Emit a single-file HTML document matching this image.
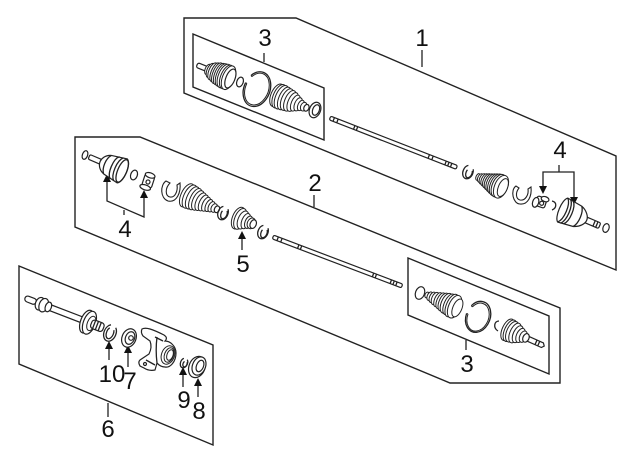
<!DOCTYPE html>
<html><head><meta charset="utf-8"><style>
html,body{margin:0;padding:0;background:#fff}
svg{display:block}
text{font-family:"Liberation Sans",sans-serif;font-size:24px;fill:#111;text-anchor:middle}
.p{fill:none;stroke:#222;stroke-width:1.4}
.l{stroke:#222;stroke-width:1.3;fill:none}
.f{fill:#fff;stroke:#222;stroke-width:1.2}
.r{fill:#fff;stroke:#222;stroke-width:1}
</style></head><body>
<svg width="640" height="471" viewBox="0 0 640 471" xmlns="http://www.w3.org/2000/svg">
<rect width="640" height="471" fill="#fff"/>
<!-- panels -->
<path class="p" d="M184 18H296L616 156V270L184 93Z"/>
<path class="p" d="M193 34L324 88V140L193 87Z"/>
<path class="p" d="M75 137H140L560 308V383H450L75 227Z"/>
<path class="p" d="M408 258L549 316V374L408 315Z" style="fill:#fff"/>
<path class="p" d="M19 266L213 345V445L19 364Z"/>
<!-- leader lines -->
<g class="l">
<path d="M264 53V62M422 50V67M314 195V207M466 340V350M108 403V417M124 210V215"/>
<path d="M559 165V172M543 192V172H574V203"/>
<path d="M107 177V201L144 217V193"/>
<path d="M242 250V233M109 360V343M128 367V347M183 387V369M198 397V380"/>
</g>
<g fill="#111">
<path d="M543 194l-4-8h8zM574 205l-4-8h8zM107 174l-4 8h8zM144 190l-4 8h8zM242 231l-4 8h8zM109 341l-4 8h8zM128 345l-4 8h8zM183 367l-4 8h8zM198 378l-4 8h8z"/>
</g>
<!-- upper left: boot group -->
<g transform="translate(197 65) rotate(22)">
<rect class="f" x="0" y="-2.5" width="11" height="5" rx="2"/>
<ellipse class="r" cx="12" cy="0" rx="3" ry="5.500"/><ellipse class="r" cx="14.500" cy="0" rx="3.500" ry="7.500"/><ellipse class="r" cx="17" cy="0" rx="4" ry="9"/><ellipse class="r" cx="19.500" cy="0" rx="4" ry="10"/><ellipse class="r" cx="22" cy="0" rx="4.500" ry="11"/><ellipse class="r" cx="24.500" cy="0" rx="5" ry="11.500"/><ellipse class="r" cx="27" cy="0" rx="5.500" ry="12"/><ellipse class="r" cx="29.500" cy="0" rx="6" ry="12.500"/><ellipse class="r" cx="32" cy="0" rx="6" ry="12.500"/><ellipse class="r" cx="34" cy="0" rx="6" ry="12.500"/><ellipse class="f" cx="36" cy="0" rx="4.500" ry="10"/>
</g>
<ellipse class="f" cx="240" cy="82" rx="3.200" ry="5" transform="rotate(20 240 82)"/>
<g transform="translate(288 100) rotate(23)">
<ellipse class="r" cx="-12" cy="0" rx="6" ry="12"/><ellipse class="r" cx="-9.500" cy="0" rx="6" ry="12.500"/><ellipse class="r" cx="-7" cy="0" rx="6" ry="12.500"/><ellipse class="r" cx="-4" cy="0" rx="5.500" ry="12"/><ellipse class="r" cx="-1" cy="0" rx="5.500" ry="11.500"/><ellipse class="r" cx="2" cy="0" rx="5" ry="11"/><ellipse class="r" cx="5" cy="0" rx="4.500" ry="10"/><ellipse class="r" cx="8" cy="0" rx="4" ry="8.500"/><ellipse class="r" cx="11" cy="0" rx="3.500" ry="7"/><ellipse class="r" cx="14" cy="0" rx="3" ry="5.500"/><ellipse class="r" cx="17" cy="0" rx="3" ry="4.500"/><ellipse class="f" cx="20" cy="0" rx="2.500" ry="3.500"/>
</g>
<g transform="translate(257 89) rotate(22)" fill="none" stroke="#222">
<path stroke-width="1.3" d="M-10.600-10.300A13 18 0 1 1-12.950-1.600"/>
<path stroke-width="1" d="M-9.400-9.500A11.500 16.500 0 1 1-11.500-1.400"/>
<path stroke-width="1" d="M-10.600-10.300L-9.400-9.500M-12.950-1.600L-11.500-1.400"/>
</g>
<ellipse class="f" cx="315" cy="110" rx="5.500" ry="8" transform="rotate(22 315 110)"/>
<ellipse class="f" cx="316" cy="110" rx="3.300" ry="5.500" transform="rotate(22 316 110)"/>
<!-- upper shaft -->
<g transform="translate(330 118) rotate(21.3)">
<rect class="f" x="0" y="-2" width="136" height="4" rx="1.500"/>
<path class="l" stroke-width="1" d="M4-2V2M8-2V2M26-2V2M29-2V2M106-2V2M110-2V2M124-2V2M127-2V2M130-2V2"/>
</g>
<!-- clip -->
<ellipse class="l" cx="468" cy="172" rx="5" ry="7" transform="rotate(22 468 172)" stroke-dasharray="26 7"/>
<ellipse class="l" cx="469" cy="173" rx="3" ry="5" transform="rotate(22 469 173)" stroke-dasharray="15 7"/>
<!-- cone boot -->
<g transform="translate(478 177) rotate(23)">
<ellipse class="r" cx="0" cy="0" rx="2" ry="3.500"/><ellipse class="r" cx="2.500" cy="0" rx="2.500" ry="4.500"/><ellipse class="r" cx="5" cy="0" rx="3" ry="5.500"/><ellipse class="r" cx="7.500" cy="0" rx="3.500" ry="6.500"/><ellipse class="r" cx="10" cy="0" rx="4" ry="7.500"/><ellipse class="r" cx="12.500" cy="0" rx="4.500" ry="8.500"/><ellipse class="r" cx="15" cy="0" rx="5" ry="9.500"/><ellipse class="r" cx="17.500" cy="0" rx="5.500" ry="10.500"/><ellipse class="r" cx="20" cy="0" rx="6" ry="11.500"/><ellipse class="r" cx="22.500" cy="0" rx="6.500" ry="12"/><ellipse class="r" cx="25" cy="0" rx="6.500" ry="12"/><ellipse class="r" cx="27" cy="0" rx="4.500" ry="9.500"/>
</g>
<path class="f" d="M516 186C510 190 513 204 520 204C528 205 532 196 531 187L528 189C529 195 525 201 520 200C516 199 515 193 519 188Z" style="stroke-width:1.1"/>
<!-- right spider -->
<g transform="translate(541 202) rotate(18)">
<rect class="f" x="-5" y="-5" width="10" height="10" rx="2"/>
<ellipse class="f" cx="-5" cy="2" rx="3" ry="5"/>
<ellipse class="f" cx="3" cy="-4" rx="4" ry="2.500"/>
<circle class="f" cx="1" cy="1" r="2"/>
</g>
<path class="l" d="M552 201C557 202 557 208 552 210"/>
<!-- right housing -->
<g transform="translate(572 214) rotate(23)">
<rect class="f" x="14" y="-3" width="16" height="6" rx="1.500"/>
<path class="l" stroke-width=".9" d="M24-3V3M27-3V3"/>
<path class="f" d="M-10-13L6-11C12-9 16-4 16 0C16 4 12 9 6 11L-10 13C-15 10-15-10-10-13Z"/>
<path class="l" stroke-width="1" d="M-10-13C-5-8-5 8-10 13M-7-13C-2-8-2 8-7 13M-4-12.500C1-8 1 8-4 12.500M6-11C10-6 10 6 6 11"/>
</g>
<ellipse class="f" cx="606" cy="228" rx="3" ry="4.500" transform="rotate(20 606 228)"/>
<!-- middle: left housing -->
<ellipse class="f" cx="85" cy="155" rx="2.600" ry="4.500" transform="rotate(20 85 155)"/>
<g transform="translate(113 167) rotate(-157)">
<rect class="f" x="12" y="-2.500" width="14" height="5" rx="1.500"/>
<path class="f" d="M-10-13L6-10C12-8 14-3 14 0C14 3 12 8 6 10L-10 13C-16 10-16-10-10-13Z"/>
<ellipse class="l" cx="-10" cy="0" rx="4.500" ry="12" stroke-width="1"/>
<path class="l" stroke-width="1" d="M-6-12.500C-1-8-1 8-6 12.500M-2-12C3-8 3 8-2 12M6-10C10-5 10 5 6 10"/>
</g>
<ellipse class="f" cx="134" cy="175" rx="3.300" ry="5" transform="rotate(20 134 175)"/>
<g transform="translate(148 182) rotate(18)">
<rect class="f" x="-5" y="-7" width="10" height="12" rx="2"/>
<ellipse class="f" cx="0" cy="-7" rx="5" ry="2.500"/>
<ellipse class="f" cx="-1" cy="6" rx="5.500" ry="2.500"/>
<circle class="f" cx="0" cy="0" r="2"/>
</g>
<path class="f" d="M166 181C160 185 160 198 168 201C177 203 181 192 180 183L177 185C178 191 175 198 170 197C165 196 165 188 170 183Z" style="stroke-width:1.1"/>
<!-- middle boot -->
<g transform="translate(197 200) rotate(25)">
<ellipse class="r" cx="-11" cy="0" rx="6" ry="12.500"/><ellipse class="r" cx="-8" cy="0" rx="6" ry="12.500"/><ellipse class="r" cx="-5" cy="0" rx="5.500" ry="12"/><ellipse class="r" cx="-2" cy="0" rx="5" ry="11.500"/><ellipse class="r" cx="1" cy="0" rx="5" ry="10.500"/><ellipse class="r" cx="4" cy="0" rx="4.500" ry="9.500"/><ellipse class="r" cx="7" cy="0" rx="4" ry="8.500"/><ellipse class="r" cx="10" cy="0" rx="3.500" ry="7.500"/><ellipse class="r" cx="13" cy="0" rx="3" ry="6.500"/><ellipse class="r" cx="16" cy="0" rx="3" ry="5.500"/><ellipse class="r" cx="19" cy="0" rx="3" ry="4.500"/><ellipse class="f" cx="22" cy="0" rx="2.500" ry="3.500"/>
</g>
<ellipse class="l" cx="223" cy="213" rx="5" ry="7" transform="rotate(22 223 213)" stroke-dasharray="26 6"/>
<ellipse class="l" cx="224" cy="214" rx="3" ry="5" transform="rotate(22 224 214)" stroke-dasharray="15 6"/>
<!-- boot 5 -->
<g transform="translate(243 220) rotate(22)">
<ellipse class="r" cx="-5" cy="0" rx="6" ry="11.500"/><ellipse class="r" cx="-3" cy="0" rx="5.500" ry="11"/><ellipse class="r" cx="0" cy="0" rx="5" ry="9.500"/><ellipse class="r" cx="3" cy="0" rx="4" ry="8"/><ellipse class="r" cx="6" cy="0" rx="3.500" ry="6.500"/><ellipse class="r" cx="9" cy="0" rx="4" ry="5.500"/><ellipse class="f" cx="11" cy="0" rx="3" ry="4.500"/>
</g>
<ellipse class="l" cx="263" cy="232" rx="5" ry="7" transform="rotate(22 263 232)" stroke-dasharray="26 6"/>
<ellipse class="l" cx="264" cy="233" rx="3" ry="5" transform="rotate(22 264 233)" stroke-dasharray="15 6"/>
<!-- middle shaft -->
<g transform="translate(273 237) rotate(20.8)">
<rect class="f" x="0" y="-2" width="138" height="4" rx="1.500"/>
<path class="l" stroke-width="1" d="M5-2V2M9-2V2M27-2V2M30-2V2M107-2V2M110-2V2M126-2V2M129-2V2M132-2V2"/>
</g>
<!-- lower 3 panel -->
<ellipse class="f" cx="420" cy="293" rx="4.500" ry="6.500" transform="rotate(20 420 293)"/>
<g transform="translate(427 295) rotate(23)">
<ellipse class="r" cx="0" cy="0" rx="2" ry="3"/><ellipse class="r" cx="3" cy="0" rx="2.500" ry="4.500"/><ellipse class="r" cx="6" cy="0" rx="3" ry="5.500"/><ellipse class="r" cx="9" cy="0" rx="3.500" ry="6.500"/><ellipse class="r" cx="12" cy="0" rx="3.500" ry="7.500"/><ellipse class="r" cx="15" cy="0" rx="4" ry="8.500"/><ellipse class="r" cx="18" cy="0" rx="4.500" ry="9.500"/><ellipse class="r" cx="21" cy="0" rx="5" ry="10.500"/><ellipse class="r" cx="24" cy="0" rx="5" ry="11"/><ellipse class="r" cx="27" cy="0" rx="5.500" ry="12"/><ellipse class="r" cx="30" cy="0" rx="6" ry="12"/><ellipse class="r" cx="33" cy="0" rx="4.500" ry="9.500"/>
</g>
<g transform="translate(478 317) rotate(22)" fill="none" stroke="#222">
<path stroke-width="1.3" d="M-10.400-8A12 16 0 1 1-11.900 1"/>
<path stroke-width="1" d="M-9-7.200A10.500 14.500 0 1 1-10.400 .9"/>
<path stroke-width="1" d="M-10.400-8L-9-7.200M-11.900 1L-10.400 .9"/>
</g>
<path class="l" d="M499 321C494 321 493 328 498 331"/>
<g transform="translate(515 333) rotate(24)">
<path class="f" d="M12-2.500H30L32 0L30 2.500H12Z"/>
<path class="l" stroke-width=".9" d="M23-2.500V2.500M26-2.500V2.500"/>
<ellipse class="r" cx="-8" cy="0" rx="5.500" ry="11.500"/><ellipse class="r" cx="-5.500" cy="0" rx="5.500" ry="11.500"/><ellipse class="r" cx="-3" cy="0" rx="5.500" ry="11"/><ellipse class="r" cx="0" cy="0" rx="5" ry="10.500"/><ellipse class="r" cx="3" cy="0" rx="4.500" ry="9"/><ellipse class="r" cx="6" cy="0" rx="4" ry="7.500"/><ellipse class="r" cx="9" cy="0" rx="3.500" ry="6"/><ellipse class="f" cx="12" cy="0" rx="3" ry="4.500"/>
</g>
<!-- panel 6 -->
<g transform="translate(25 298) rotate(21)">
<rect class="f" x="0" y="-3" width="12" height="6" rx="3"/>
<rect class="f" x="24" y="-3" width="44" height="6"/>
<ellipse class="f" cx="16" cy="0" rx="4.500" ry="6.500"/>
<ellipse class="f" cx="20" cy="0" rx="4.500" ry="7"/>
<ellipse class="f" cx="25" cy="0" rx="3" ry="5"/>
<ellipse class="f" cx="66" cy="0" rx="6" ry="12"/>
<ellipse class="f" cx="69" cy="0" rx="6" ry="12"/>
<ellipse class="r" cx="71" cy="0" rx="4" ry="7.500"/>
<rect class="f" x="71" y="-4.500" width="13" height="9" rx="3"/>
<path class="l" stroke-width=".9" d="M74-4.500V4.500M77-4.500V4.500M80-4.500V4.500"/>
</g>
<ellipse class="l" cx="110" cy="333" rx="6" ry="8.500" transform="rotate(22 110 333)" stroke-dasharray="32 6"/>
<ellipse class="l" cx="110" cy="333" rx="3.500" ry="6" transform="rotate(22 110 333)" stroke-dasharray="20 6"/>
<ellipse class="f" cx="129" cy="338" rx="7" ry="9.500" transform="rotate(22 129 338)"/>
<ellipse class="f" cx="130" cy="338" rx="4.500" ry="6.500" transform="rotate(22 130 338)"/>
<circle class="f" cx="131" cy="338" r="2.300"/>
<!-- knuckle -->
<path class="f" d="M142 329C146 327 152 329 164 335C167 337 167 339 165 341C170 341 176 346 176 353C176 362 170 368 165 367C160 367 158 364 157 363L155 370C150 371 147 370 144 368L140 366C139 364 138 362 140 360L149 354C151 350 152 346 150 341L143 336C141 333 141 331 142 329Z"/>
<ellipse class="r" cx="168" cy="355" rx="6.500" ry="9.500" transform="rotate(20 168 355)"/>
<ellipse class="r" cx="169" cy="355" rx="4.500" ry="7.500" transform="rotate(20 169 355)"/>
<ellipse class="r" cx="170" cy="355" rx="3" ry="5.500" transform="rotate(20 170 355)"/>
<path class="l" stroke-width="1" d="M157 337C156 345 156 355 157 363M146 360L155 365M155 337L163 341"/>
<circle class="f" cx="145" cy="364" r="1.500"/>
<ellipse class="l" cx="184" cy="363" rx="3.500" ry="5" transform="rotate(22 184 363)" stroke-dasharray="18 4"/>
<ellipse class="l" cx="185" cy="364" rx="2" ry="3" transform="rotate(22 185 364)" stroke-dasharray="10 3"/>
<ellipse class="f" cx="197" cy="367" rx="8" ry="11" transform="rotate(22 197 367)"/>
<ellipse class="f" cx="199" cy="366" rx="6.500" ry="9.500" transform="rotate(22 199 366)"/>
<ellipse class="f" cx="200" cy="366" rx="3.500" ry="6" transform="rotate(22 200 366)"/>
<!-- labels -->
<text x="265" y="46">3</text>
<text x="422" y="46">1</text>
<text x="315" y="191">2</text>
<text x="560" y="158">4</text>
<text x="125" y="237">4</text>
<text x="243" y="272">5</text>
<text x="467" y="372">3</text>
<text x="108" y="437">6</text>
<text x="112" y="382">10</text>
<text x="130" y="389">7</text>
<text x="184" y="408">9</text>
<text x="199" y="419">8</text>
</svg>
</body></html>
